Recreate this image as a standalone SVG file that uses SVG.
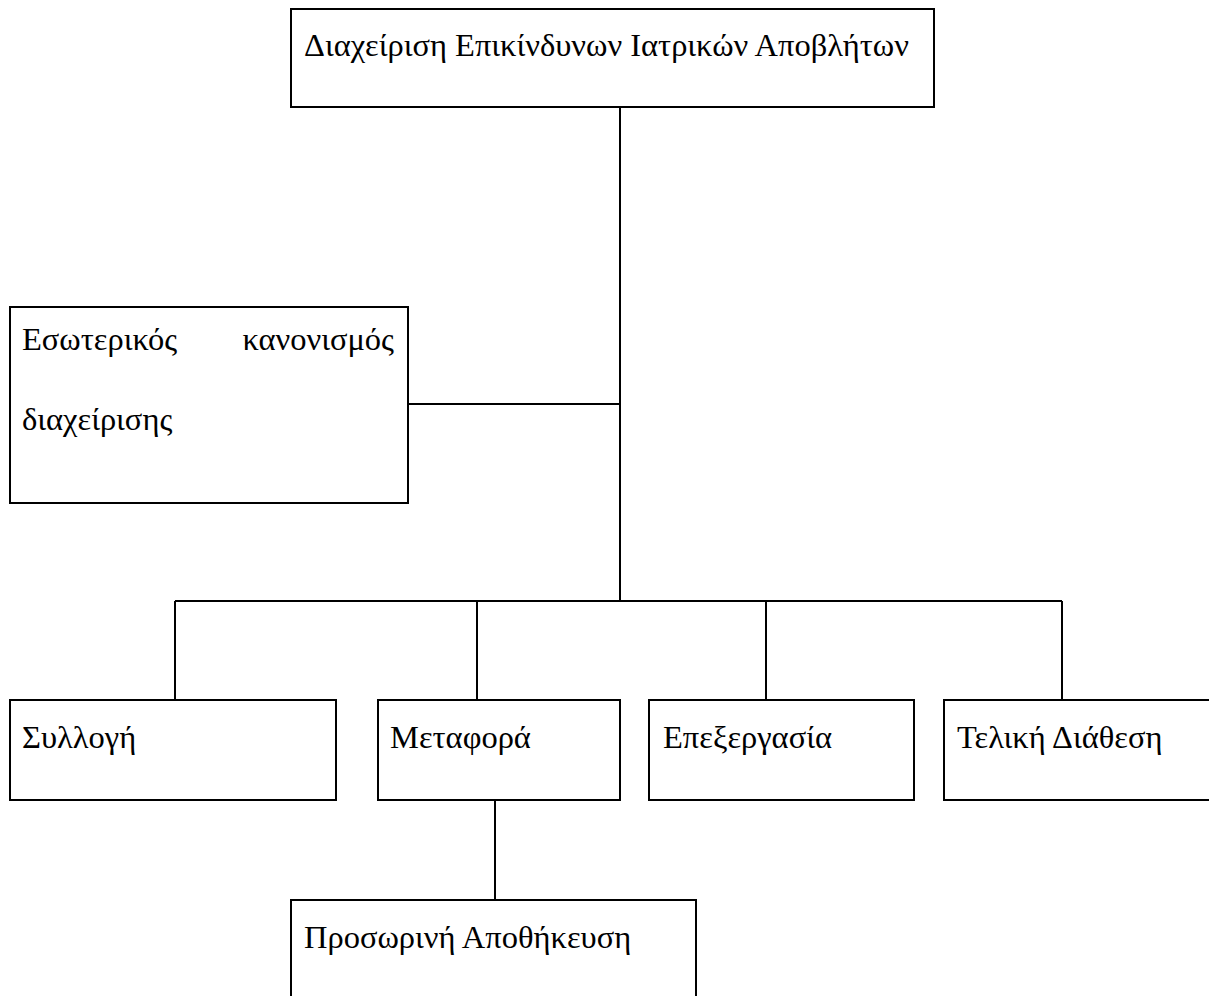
<svg xmlns="http://www.w3.org/2000/svg" width="1209" height="996" viewBox="0 0 1209 996">
<style>
.box{fill:#fff;stroke:#000;stroke-width:2}
.lbl{font-family:'Liberation Serif','DejaVu Serif',serif;font-size:32.5px;fill:#000}
.con{stroke:#000;stroke-width:2;fill:none}
</style>
<rect width="1209" height="996" fill="#fff"/>
<g id="connectors">
<line class="con" x1="620" y1="107" x2="620" y2="601"/>
<line class="con" x1="408" y1="404" x2="620" y2="404"/>
<line class="con" x1="175" y1="601" x2="1062" y2="601"/>
<line class="con" x1="175" y1="601" x2="175" y2="700"/>
<line class="con" x1="477" y1="601" x2="477" y2="700"/>
<line class="con" x1="766" y1="601" x2="766" y2="700"/>
<line class="con" x1="1062" y1="601" x2="1062" y2="700"/>
<line class="con" x1="495" y1="800" x2="495" y2="900"/>
</g>
<g id="root">
<rect class="box" x="291" y="9" width="643" height="98"/>
<text class="lbl" x="304" y="56">Διαχείριση Επικίνδυνων Ιατρικών Αποβλήτων</text>
</g>
<g id="internal">
<rect class="box" x="10" y="307" width="398" height="196"/>
<text class="lbl" x="22" y="350">Εσωτερικός</text>
<text class="lbl" x="394" y="350" text-anchor="end">κανονισμός</text>
<text class="lbl" x="22" y="430">διαχείρισης</text>
</g>
<g id="collection">
<rect class="box" x="10" y="700" width="326" height="100"/>
<text class="lbl" x="22" y="748">Συλλογή</text>
</g>
<g id="transport">
<rect class="box" x="378" y="700" width="242" height="100"/>
<text class="lbl" x="390" y="748">Μεταφορά</text>
</g>
<g id="processing">
<rect class="box" x="649" y="700" width="265" height="100"/>
<text class="lbl" x="663" y="748">Επεξεργασία</text>
</g>
<g id="disposal">
<rect class="box" x="944" y="700" width="275" height="100"/>
<text class="lbl" x="957" y="748">Τελική Διάθεση</text>
</g>
<g id="storage">
<rect class="box" x="291" y="900" width="405" height="110"/>
<text class="lbl" x="304" y="948">Προσωρινή Αποθήκευση</text>
</g>
</svg>
